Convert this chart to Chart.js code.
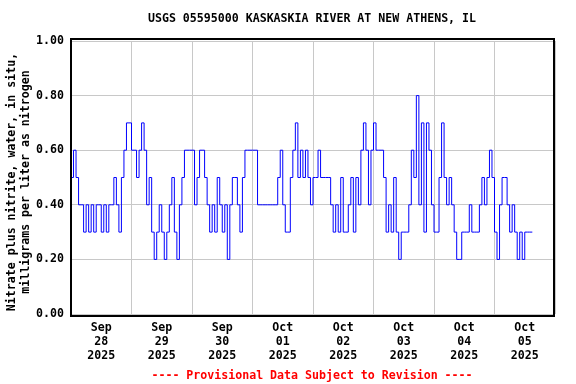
<!DOCTYPE html>
<html>
<head>
<meta charset="utf-8">
<script src="https://cdn.jsdelivr.net/npm/chart.js@4"></script>
<style>
  html, body { margin: 0; padding: 0; background: #fff; }
</style>
</head>
<body>
<canvas id="chart" width="576" height="384"></canvas>
<script>
'use strict';

// ── Text ───────────────────────────────────────────────────────────────────
const TITLE   = 'USGS 05595000 KASKASKIA RIVER AT NEW ATHENS, IL';
const Y_TITLE = ['Nitrate plus nitrite, water, in situ,', 'milligrams per liter as nitrogen'];
const FOOTER  = '---- Provisional Data Subject to Revision ----';

// ── Axes ───────────────────────────────────────────────────────────────────
const DAY_LABELS = [
  ['Sep', '28', '2025'], ['Sep', '29', '2025'], ['Sep', '30', '2025'],
  ['Oct', '01', '2025'], ['Oct', '02', '2025'], ['Oct', '03', '2025'],
  ['Oct', '04', '2025'], ['Oct', '05', '2025']
];
const Y_TICKS = [0, 0.2, 0.4, 0.6, 0.8, 1.0];

// ── Hourly readings (mg/L), hour 0 = Sep 28 00:00 ─────────────────────────
const SEP28 = [0.4,0.5,0.6,0.5,0.4,0.4,0.3,0.4,0.3,0.4,0.3,0.4,0.4,0.3,0.4,0.3,0.4,0.4,0.5,0.4,0.3,0.5,0.6,0.7];
const SEP29 = [0.7,0.6,0.6,0.5,0.6,0.7,0.6,0.4,0.5,0.3,0.2,0.3,0.4,0.3,0.2,0.3,0.4,0.5,0.3,0.2,0.4,0.5,0.6,0.6];
const SEP30 = [0.6,0.6,0.4,0.5,0.6,0.6,0.5,0.4,0.3,0.4,0.3,0.5,0.4,0.3,0.4,0.2,0.4,0.5,0.5,0.4,0.3,0.5,0.6,0.6];
const OCT01 = [0.6,0.6,0.6,0.4,0.4,0.4,0.4,0.4,0.4,0.4,0.4,0.5,0.6,0.4,0.3,0.3,0.5,0.6,0.7,0.5,0.6,0.5,0.6,0.5];
const OCT02 = [0.4,0.5,0.5,0.6,0.5,0.5,0.5,0.5,0.4,0.3,0.4,0.3,0.5,0.3,0.3,0.4,0.5,0.3,0.5,0.4,0.6,0.7,0.6,0.4];
const OCT03 = [0.6,0.7,0.6,0.6,0.6,0.5,0.3,0.4,0.3,0.5,0.3,0.2,0.3,0.3,0.3,0.4,0.6,0.5,0.8,0.4,0.7,0.3,0.7,0.6];
const OCT04 = [0.4,0.3,0.3,0.5,0.7,0.5,0.4,0.5,0.4,0.3,0.2,0.2,0.3,0.3,0.3,0.4,0.3,0.3,0.3,0.4,0.5,0.4,0.5,0.6];
const OCT05 = [0.5,0.3,0.2,0.4,0.5,0.5,0.4,0.3,0.4,0.3,0.2,0.3,0.2,0.3,0.3,0.3];

// ── Style ──────────────────────────────────────────────────────────────────
const FONT_FAMILY = '"DejaVu Sans Mono", monospace';
const FONT_SIZE   = 11.6;
const GRID        = '#c8c8c8';

const readings = [].concat(SEP28, SEP29, SEP30, OCT01, OCT02, OCT03, OCT04, OCT05);
const points   = readings.map((v, i) => ({ x: i, y: v }));

const framePlugin = {
  id: 'frame',
  afterDraw(chart) {
    const { ctx, chartArea: a } = chart;
    ctx.save();
    ctx.strokeStyle = '#000';
    ctx.lineWidth = 2;
    ctx.strokeRect(a.left, a.top - 2, a.right - a.left - 1, a.bottom - a.top + 4);

    ctx.font = `bold ${FONT_SIZE}px ${FONT_FAMILY}`;
    ctx.textAlign = 'center';
    ctx.textBaseline = 'middle';
    ctx.fillStyle = '#000';
    ctx.fillText(TITLE, 312, 19);

    ctx.fillStyle = '#ff0000';
    ctx.fillText(FOOTER, 312, 376);

    ctx.fillStyle = '#000';
    ctx.translate(19, 182);
    ctx.rotate(-Math.PI / 2);
    ctx.fillText(Y_TITLE[0], 0, -7);
    ctx.fillText(Y_TITLE[1], 0, 7);
    ctx.restore();
  }
};

const tickFont = { family: FONT_FAMILY, size: FONT_SIZE, weight: 'bold', lineHeight: 1.2 };

new Chart(document.getElementById('chart').getContext('2d'), {
  type: 'line',
  data: {
    datasets: [{
      data: points,
      borderColor: '#0000ff',
      borderWidth: 1,
      pointRadius: 0,
      stepped: 'after',
      fill: false
    }]
  },
  options: {
    responsive: false,
    animation: false,
    devicePixelRatio: 1,
    layout: { padding: { top: 41, right: 21, bottom: 0, left: 0 } },
    plugins: { legend: { display: false }, tooltip: { enabled: false } },
    scales: {
      x: {
        type: 'linear',
        min: 0,
        max: 192,
        afterBuildTicks: s => {
          const t = [];
          for (let v = 0; v <= 192; v += 12) t.push({ value: v });
          s.ticks = t;
        },
        afterFit: s => { s.height = 70; },
        ticks: {
          autoSkip: false,
          maxRotation: 0,
          padding: 7,
          color: '#000',
          font: tickFont,
          callback: v => (v % 24 === 12 ? DAY_LABELS[(v - 12) / 24] : '')
        },
        grid: {
          color: c => (c.tick && c.tick.value % 24 === 0 ? GRID : 'rgba(0,0,0,0)'),
          drawTicks: false
        },
        border: { display: false }
      },
      y: {
        min: 0,
        max: 1,
        afterBuildTicks: s => { s.ticks = Y_TICKS.map(v => ({ value: v })); },
        afterFit: s => { s.width = 71; },
        ticks: {
          padding: 7,
          color: '#000',
          font: tickFont,
          callback: v => v.toFixed(2)
        },
        grid: { color: GRID, drawTicks: false },
        border: { display: false }
      }
    }
  },
  plugins: [framePlugin]
});
</script>
</body>
</html>
